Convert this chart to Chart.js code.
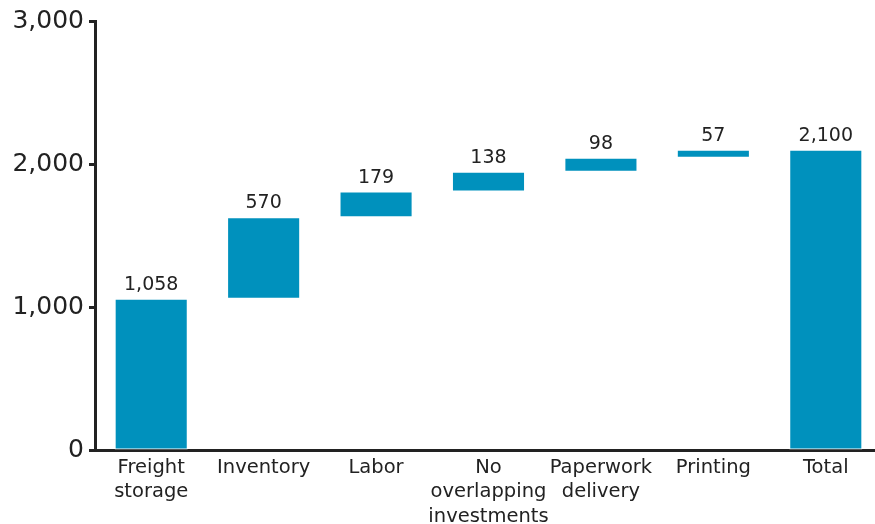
<!DOCTYPE html>
<html>
<head>
<meta charset="utf-8">
<script src="https://cdn.jsdelivr.net/npm/chart.js@4.4.1/dist/chart.umd.min.js"></script>
<style>
    html, body { margin: 0; padding: 0; background: #fff; overflow: hidden; }
    #wrap { width: 882px; height: 524px; position: relative; }
</style>
</head>
<body>
<div id="wrap"><canvas id="chart"></canvas></div>
<script>
// cost components, stacked up into the total
const categories = [
    ["Freight", "storage"],
    ["Inventory"],
    ["Labor"],
    ["No", "overlapping", "investments"],
    ["Paperwork", "delivery"],
    ["Printing"],
    ["Total"],
];
const increments = [1058, 570, 179, 138, 98, 57];
const totalValue = 2100;
const yTicks = [0, 1000, 2000, 3000];

const barColor = "#0091bd";
const textColor = "#222222";
const fontFamily = "'DejaVu Sans', Verdana, sans-serif";

// floating ranges for the waterfall steps
let ranges = [];
let running = 0;
increments.forEach((v) => {
    ranges.push([running, running + v]);
    running += v;
});
ranges.push([0, totalValue]);
const labelValues = increments.concat([totalValue]);

const valueLabels = {
    id: "valueLabels",
    afterDatasetsDraw(chart) {
        const ctx = chart.ctx;
        const meta = chart.getDatasetMeta(0);
        ctx.save();
        ctx.font = "19px " + fontFamily;
        ctx.fillStyle = textColor;
        ctx.textAlign = "center";
        ctx.textBaseline = "alphabetic";
        meta.data.forEach((bar, i) => {
            const top = Math.min(bar.y, bar.base);
            ctx.fillText(labelValues[i].toLocaleString("en-US"), bar.x, top - 9);
        });
        ctx.restore();
    },
};

new Chart(document.getElementById("chart"), {
    type: "bar",
    data: {
        labels: categories,
        datasets: [
            {
                data: ranges,
                backgroundColor: barColor,
                borderColor: "#ffffff",
                borderWidth: 1,
                borderSkipped: false,
                categoryPercentage: 1,
                barPercentage: 0.65,
            },
        ],
    },
    options: {
        responsive: true,
        maintainAspectRatio: false,
        animation: false,
        layout: {
            padding: { top: 21, left: 0, right: 0, bottom: 0 },
        },
        plugins: {
            legend: { display: false },
            tooltip: { enabled: false },
        },
        scales: {
            x: {
                afterFit: (s) => {
                    s.height = 74;
                },
                grid: { display: false },
                border: { display: true, color: textColor, width: 3 },
                ticks: {
                    color: textColor,
                    padding: -2,
                    maxRotation: 0,
                    autoSkip: false,
                    font: { family: fontFamily, size: 19.5, lineHeight: 1.24 },
                },
            },
            y: {
                min: 0,
                max: 3000,
                afterFit: (s) => {
                    s.width = 95;
                },
                afterBuildTicks: (s) => {
                    s.ticks = yTicks.map((v) => ({ value: v }));
                },
                grid: {
                    drawOnChartArea: false,
                    drawTicks: true,
                    tickLength: 6,
                    tickWidth: 3,
                    color: textColor,
                },
                border: { display: true, color: textColor, width: 3 },
                ticks: {
                    color: textColor,
                    padding: 5,
                    font: { family: fontFamily, size: 25 },
                    callback: (v) => v.toLocaleString("en-US"),
                },
            },
        },
    },
    plugins: [valueLabels],
});
</script>
</body>
</html>
